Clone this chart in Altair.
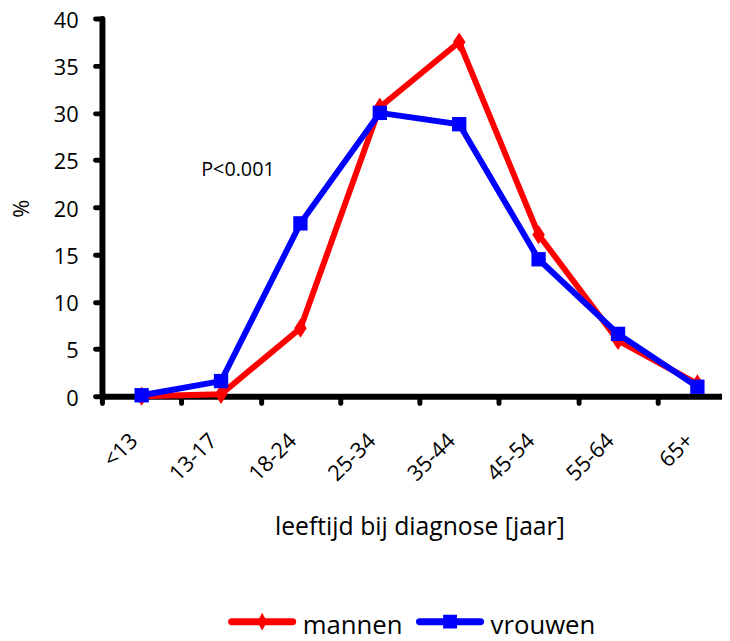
import altair as alt
import pandas as pd

# ---- data ----
categories = ["<13", "13-17", "18-24", "25-34", "35-44", "45-54", "55-64", "65+"]
mannen = [0.0, 0.2, 7.2, 30.6, 37.5, 17.1, 5.9, 1.3]
vrouwen = [0.1, 1.6, 18.3, 30.0, 28.8, 14.5, 6.6, 1.0]
series_names = ["mannen", "vrouwen"]
series_colors = ["#ff0000", "#0000ff"]
y_ticks = [0, 5, 10, 15, 20, 25, 30, 35, 40]
annotation_text = ["P<0.001"]
annotation_x = [0.75]
annotation_y = [23.9]

rows = []
for i, c in enumerate(categories):
    rows.append({"idx": i, "cat": c, "value": mannen[i], "series": "mannen"})
for i, c in enumerate(categories):
    rows.append({"idx": i, "cat": c, "value": vrouwen[i], "series": "vrouwen"})
df = pd.DataFrame(rows)
ann = pd.DataFrame({"idx": annotation_x, "value": annotation_y, "text": annotation_text})

FONT = "Open Sans"
label_js = "[" + ",".join("'" + c + "'" for c in categories) + "][datum.value]"

def cscale(names=series_names, colors=series_colors):
    return alt.Scale(domain=names, range=colors)

x_enc = alt.X(
    "idx:Q",
    scale=alt.Scale(domain=[-0.5, 7.31], nice=False, zero=False),
    axis=alt.Axis(
        values=list(range(len(categories))),
        labelExpr=label_js,
        tickOffset=-40.14,
        labelOffset=32,
        labelAngle=-45,
        labelAlign="right",
        labelBaseline="middle",
        labelPadding=34,
        labelOverlap=False,
        labelFlush=False,
        title="leeftijd bij diagnose [jaar]",
        titleFontSize=25,
        titleX=321,
        titleY=140,
        titleAlign="center",
        titleBaseline="alphabetic",
        titleAngle=0,
    ),
)
y_enc = alt.Y(
    "value:Q",
    scale=alt.Scale(domain=[0, 40], nice=False, zero=True),
    axis=alt.Axis(
        values=y_ticks,
        labelPadding=17,
        labelOffset=2,
        title="%",
        titleFontSize=22,
        titleX=-81,
        titleY=192,
        titleAlign="center",
        titleBaseline="middle",
        titleAngle=-90,
    ),
)

base = alt.Chart(df)

def line_layer(name):
    return base.transform_filter(alt.datum.series == name).mark_line(strokeWidth=6).encode(
        x=x_enc, y=y_enc,
        color=alt.Color("series:N", scale=cscale(), legend=None),
    )

diamond_path = "M0,-1 L0.65,0 L0,1 L-0.65,0 Z"

red_line = line_layer("mannen")
red_pts = base.transform_filter(alt.datum.series == "mannen").mark_point(
    filled=True, shape=diamond_path, size=380, opacity=1
).encode(x=x_enc, y=y_enc, color=alt.Color("series:N", scale=cscale(), legend=None))
blue_line = line_layer("vrouwen")
blue_pts = base.transform_filter(alt.datum.series == "vrouwen").mark_point(
    filled=True, shape="square", size=210, opacity=1
).encode(x=x_enc, y=y_enc, color=alt.Color("series:N", scale=cscale(), legend=None))

# legend symbols: a line with its marker (custom paths)
line_part = "M-0.886,-0.214 L0.886,-0.214 A0.1,0.1 0 0 1 0.886,-0.014 L-0.886,-0.014 A0.1,0.1 0 0 1 -0.886,-0.214 Z"
leg_diamond = line_part + " M0,-0.371 L0.143,-0.114 L0,0.143 L-0.143,-0.114 Z"
leg_square = line_part + " M-0.2,-0.314 L0.2,-0.314 L0.2,0.086 L-0.2,0.086 Z"

def legend_layer(k, symbol, lx):
    name = series_names[k]
    return base.transform_filter(alt.datum.series == name).mark_point(
        filled=True, opacity=1, size=0
    ).encode(
        x=x_enc, y=y_enc,
        color=alt.Color("series:N", scale=cscale([name], [series_colors[k]]), legend=alt.Legend(
            orient="none", legendX=lx, legendY=579, direction="horizontal", title=None,
            symbolType=symbol, symbolSize=4900, symbolStrokeWidth=0, symbolOpacity=1,
            labelFont=FONT, labelFontSize=26, labelColor="black", labelOffset=6,
            padding=0,
        )),
    )

leg_red = legend_layer(0, leg_diamond, 127)
leg_blue = legend_layer(1, leg_square, 317)

text_layer = alt.Chart(ann).mark_text(
    align="left", baseline="middle", font=FONT, fontSize=20, color="black"
).encode(x=x_enc, y=y_enc, text="text:N")

chart = alt.layer(red_line, red_pts, blue_line, blue_pts, leg_red, leg_blue, text_layer).resolve_scale(
    color="independent"
).properties(
    width=627,
    height=382,
    padding={"left": 95, "top": 7, "right": 0, "bottom": 244},
    autosize=alt.AutoSizeParams(type="none"),
).configure_view(stroke=None).configure_axis(
    grid=False,
    domainColor="black",
    domainWidth=6,
    domainCap="round",
    tickColor="black",
    tickWidth=5,
    tickCap="round",
    tickSize=7,
    labelFont=FONT,
    labelFontSize=22,
    labelColor="black",
    titleFont=FONT,
    titleColor="black",
    titleFontWeight="normal",
)

chart.save("out.html", embed_options={"renderer": "svg", "actions": False})
